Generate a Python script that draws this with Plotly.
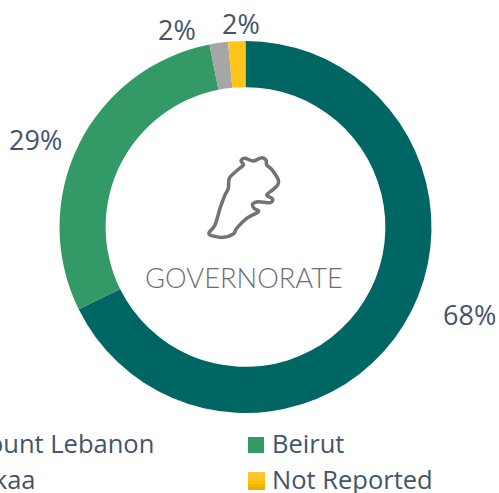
import plotly.graph_objects as go

W, H = 499, 493
categories = ["Mount Lebanon", "Beirut", "Bekaa", "Not Reported"]
values = [67.7, 29.2, 1.6, 1.5]
value_labels = ["68%", "29%", "2%", "2%"]
colors = ["#006664", "#339966", "#A6A6A6", "#FFC41A"]
center_title = "GOVERNORATE"
TEXT = "#44546A"
FONT = "Open Sans"

px = lambda x: x / W
py = lambda y: 1 - y / H

fig = go.Figure(go.Pie(
    labels=categories, values=values, sort=False, direction="clockwise", rotation=0,
    hole=0.752, marker=dict(colors=colors, line=dict(width=0)), textinfo="none",
    hoverinfo="label+percent", showlegend=False,
    domain=dict(x=[px(59.5), px(431.5)], y=[py(413), py(41)]),
))

def note(x, y, text, anchor="center", size=24, color=TEXT, font=FONT, weight=None):
    fig.add_annotation(x=px(x), y=py(y), xref="paper", yref="paper", text=text, showarrow=False,
                       xanchor=anchor, yanchor="middle", borderpad=0, borderwidth=0,
                       font=dict(size=size, color=color, family=font, weight=weight))

# value labels
for pos, lab in zip([(469, 314), (35, 140), (177, 30), (241, 23)], value_labels):
    note(pos[0], pos[1], lab, size=27)

# centre caption
note(244, 277, center_title, size=27.3, color="#6E6E6E", font="Lato", weight=300)

# legend
note(154, 443, categories[0], anchor="right", size=25.5)
note(272, 443, categories[1], anchor="left", size=25.5)
note(36, 479, categories[2], anchor="right", size=25.5)
note(272, 479, categories[3], anchor="left", size=25.5)

def rect(x0, y0, x1, y1, c):
    fig.add_shape(type="rect", xref="paper", yref="paper", x0=px(x0), x1=px(x1), y0=py(y1), y1=py(y0),
                  fillcolor=c, line=dict(width=0), layer="above")

rect(248, 437, 264, 453, colors[1])
for i, c in enumerate(["#FFC83A", "#FFC52E", "#FFC31E", "#FFC000", "#F2B800", "#E6AE00"]):
    rect(248, 472 + i * 3, 265, 472 + (i + 1) * 3 + (1 if i < 5 else 0), c)

# Lebanon outline icon
outline = [(333,93),(345,85),(370,93),(395,83),(408,90),(410,105),(425,118),(445,150),(443,165),
           (425,182),(410,195),(428,207),(420,218),(385,215),(368,222),(372,235),(385,245),(350,265),
           (320,295),(310,312),(280,322),(245,317),(237,308),(255,285),(270,235),(285,195),(295,175),
           (298,145),(320,122),(340,105)]
pts = [(px(130 + a / 3), py(130 + b / 3)) for a, b in outline]
n = len(pts)
path = f"M{pts[0][0]:.5f},{pts[0][1]:.5f}"
for i in range(n):
    p0, p1, p2, p3 = pts[i - 1], pts[i], pts[(i + 1) % n], pts[(i + 2) % n]
    c1 = (p1[0] + (p2[0] - p0[0]) / 6, p1[1] + (p2[1] - p0[1]) / 6)
    c2 = (p2[0] - (p3[0] - p1[0]) / 6, p2[1] - (p3[1] - p1[1]) / 6)
    path += f" C{c1[0]:.5f},{c1[1]:.5f} {c2[0]:.5f},{c2[1]:.5f} {p2[0]:.5f},{p2[1]:.5f}"
path += " Z"
fig.add_shape(type="path", xref="paper", yref="paper", path=path, line=dict(color="#737373", width=3.5))

fig.update_layout(width=W, height=H, margin=dict(l=0, r=0, t=0, b=0, autoexpand=False),
                  paper_bgcolor="white", showlegend=False)
fig.write_html("out.html", config=dict(displayModeBar=False),
               post_script="document.body.style.margin='0';document.body.style.overflow='hidden';")
